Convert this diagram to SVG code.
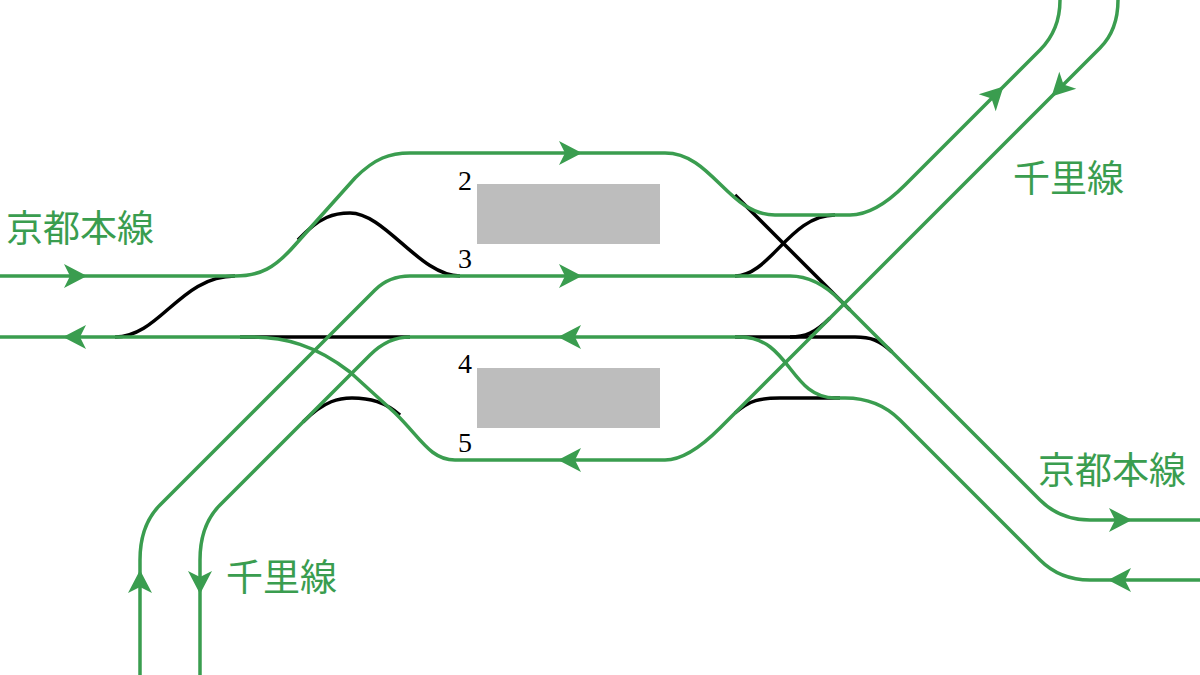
<svg xmlns="http://www.w3.org/2000/svg" xmlns:xlink="http://www.w3.org/1999/xlink" width="1200" height="675" viewBox="0 0 1200 675">
<style>
.g{fill:none;stroke:#3a9d4f;stroke-width:3.5}
.k{fill:none;stroke:#000;stroke-width:3.5}
.a{fill:#3a9d4f}
.lbl{font-family:"Noto Sans CJK JP","Noto Sans",sans-serif;font-size:37px;fill:#3a9d4f}
.num{font-family:"Liberation Serif",serif;font-size:28px;fill:#000;text-anchor:middle}
.pf{fill:#bdbdbd}
</style>
<defs><path id="ar" class="a" d="M12,0 L-11,-12 L-5,0 L-11,12 Z"/></defs>
<rect width="1200" height="675" fill="#fff"/>
<g id="platforms">
<rect class="pf" x="477" y="184" width="183" height="60"/>
<rect class="pf" x="477" y="368" width="183" height="60"/>
</g>
<g id="connectors">
<path class="k" d="M115,337 C160,337 180,276 235,276"/>
<path class="k" d="M298,240 C320,216 335,213 350,213 C385,213 420,276 460,276"/>
<path class="k" d="M240,337 L410,337"/>
<path class="k" d="M303,422 C325,400 340,398 352,398 C370,398 385,402 400,415"/>
<path class="k" d="M735,195 L850,310"/>
<path class="k" d="M735,276 C770,276 790,215 835,215"/>
<path class="k" d="M735,337 L855,337 C870,337 880,340 892,352"/>
<path class="k" d="M790,337 C805,337 815,333 830,318"/>
<path class="k" d="M735,413 C750,400 760,398 780,398 L840,398"/>
<path class="g" d="M0,276 L235,276 C260,276 275,268 295,245 L355,178 C375,158 390,153 410,153 L665,153 C712,153 728,215 775,215 L850,215 Q875,215 905,185 L1040,50 Q1060,30 1060,0"/>
<path class="g" d="M140,680 L140,560 Q140,525 160,505 L375,290 Q389,276 410,276 L790,276 Q816,276 840,300 L1040,500 Q1060,520 1090,520 L1200,520"/>
<path class="g" d="M200,680 L200,560 Q200,525 220,505 L370,355 Q388,337 410,337 L740,337 C790,337 790,398 835,398 L845,398 Q878,398 900,420 L1040,560 Q1060,580 1090,580 L1200,580"/>
<path class="g" d="M0,337 L250,337 C285,337 315,345 350,372 L395,413 C420,437 430,460 455,460 L665,460 Q688,460 720,428 L1100,48 Q1118,30 1118,0"/>
</g>
<g id="arrows">
<use xlink:href="#ar" transform="translate(75,276)"/>
<use xlink:href="#ar" transform="translate(75,337) rotate(180)"/>
<use xlink:href="#ar" transform="translate(570,153)"/>
<use xlink:href="#ar" transform="translate(570,276)"/>
<use xlink:href="#ar" transform="translate(570,337) rotate(180)"/>
<use xlink:href="#ar" transform="translate(570,460) rotate(180)"/>
<use xlink:href="#ar" transform="translate(995,95) rotate(-45)"/>
<use xlink:href="#ar" transform="translate(1060,88) rotate(135)"/>
<use xlink:href="#ar" transform="translate(1120,520)"/>
<use xlink:href="#ar" transform="translate(1120,580) rotate(180)"/>
<use xlink:href="#ar" transform="translate(140,582) rotate(-90)"/>
<use xlink:href="#ar" transform="translate(200,582) rotate(90)"/>
</g>
<g id="labels">
<text class="lbl" x="6" y="242">京都本線</text>
<text class="lbl" x="1013" y="192">千里線</text>
<text class="lbl" x="226" y="591">千里線</text>
<text class="lbl" x="1038" y="484">京都本線</text>
<text class="num" x="465" y="190">2</text>
<text class="num" x="465" y="268">3</text>
<text class="num" x="465" y="373">4</text>
<text class="num" x="465" y="452">5</text>
</g>
</svg>
